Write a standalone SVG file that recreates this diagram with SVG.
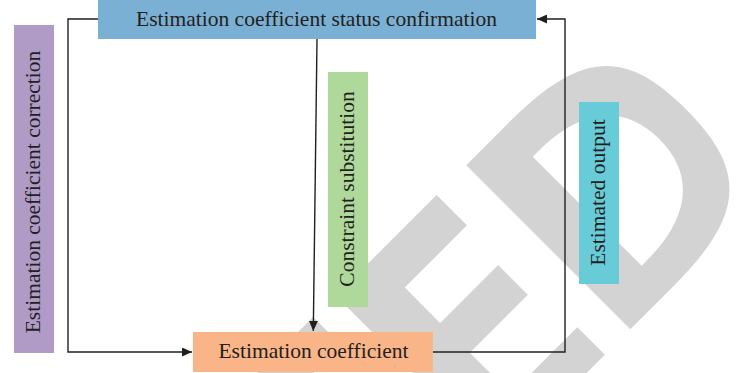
<svg xmlns="http://www.w3.org/2000/svg" width="744" height="373" viewBox="0 0 744 373">
  <style>
    .lbl { font-family: "Liberation Serif", "Times New Roman", serif; font-size: 21.5px; fill: #231F20; text-anchor: middle; }
    .wm { fill: #D3D3D3; }
    .conn { fill: none; stroke: #231F20; stroke-width: 1.4; }
  </style>
  <defs>
    <marker id="arrow" markerUnits="userSpaceOnUse" markerWidth="11" markerHeight="9" refX="10" refY="4.5" orient="auto">
      <path d="M0,0 L10,4.5 L0,9 Z" fill="#231F20"/>
    </marker>
  </defs>
  <rect width="744" height="373" fill="#FFFFFF"/>

  <!-- background watermark shapes -->
  <g id="watermark" transform="translate(549,248) rotate(-45)">
    <rect class="wm" x="-420" y="-118" width="204.4" height="40"/>
    <path class="wm" d="M-184.5,-117 H-42 V-74 H-130 V-24 H-48 V18 H-130 V76 H-36 V115 H-184.5 Z"/>
    <path class="wm" fill-rule="evenodd" d="M0,-117 H60 C161,-117 195,-88 195,-1 C195,86 161,115 60,115 H0 Z M53,-76 H60 C121.75,-76 155,-49 155,1 C155,51 121.75,78 60,78 H53 Z"/>
  </g>

  <g id="connectors">
    <polyline class="conn" points="98,19 68,19 68,352 192,352" marker-end="url(#arrow)"/>
    <line class="conn" x1="317" y1="39" x2="313.3" y2="331" marker-end="url(#arrow)"/>
    <polyline class="conn" points="433,352 565,352 565,19 537,19" marker-end="url(#arrow)"/>
  </g>

  <g id="node-status">
    <rect x="98" y="0" width="438" height="39" fill="#7BB0D5"/>
    <text class="lbl" x="316.5" y="26">Estimation coefficient status confirmation</text>
  </g>

  <g id="node-correction">
    <rect x="14" y="25" width="40" height="328" fill="#B09BC7"/>
    <text class="lbl" transform="translate(40,192) rotate(-90)">Estimation coefficient correction</text>
  </g>

  <g id="node-constraint">
    <rect x="328" y="72" width="40" height="235" fill="#AFD89B"/>
    <text class="lbl" transform="translate(353.5,189) rotate(-90)">Constraint substitution</text>
  </g>

  <g id="node-output">
    <rect x="579" y="102" width="40" height="182" fill="#67CCD8"/>
    <text class="lbl" transform="translate(605,192.5) rotate(-90)">Estimated output</text>
  </g>

  <g id="node-coefficient">
    <rect x="193" y="332" width="240" height="40" fill="#F9B587"/>
    <text class="lbl" x="313.5" y="358">Estimation coefficient</text>
  </g>
</svg>
